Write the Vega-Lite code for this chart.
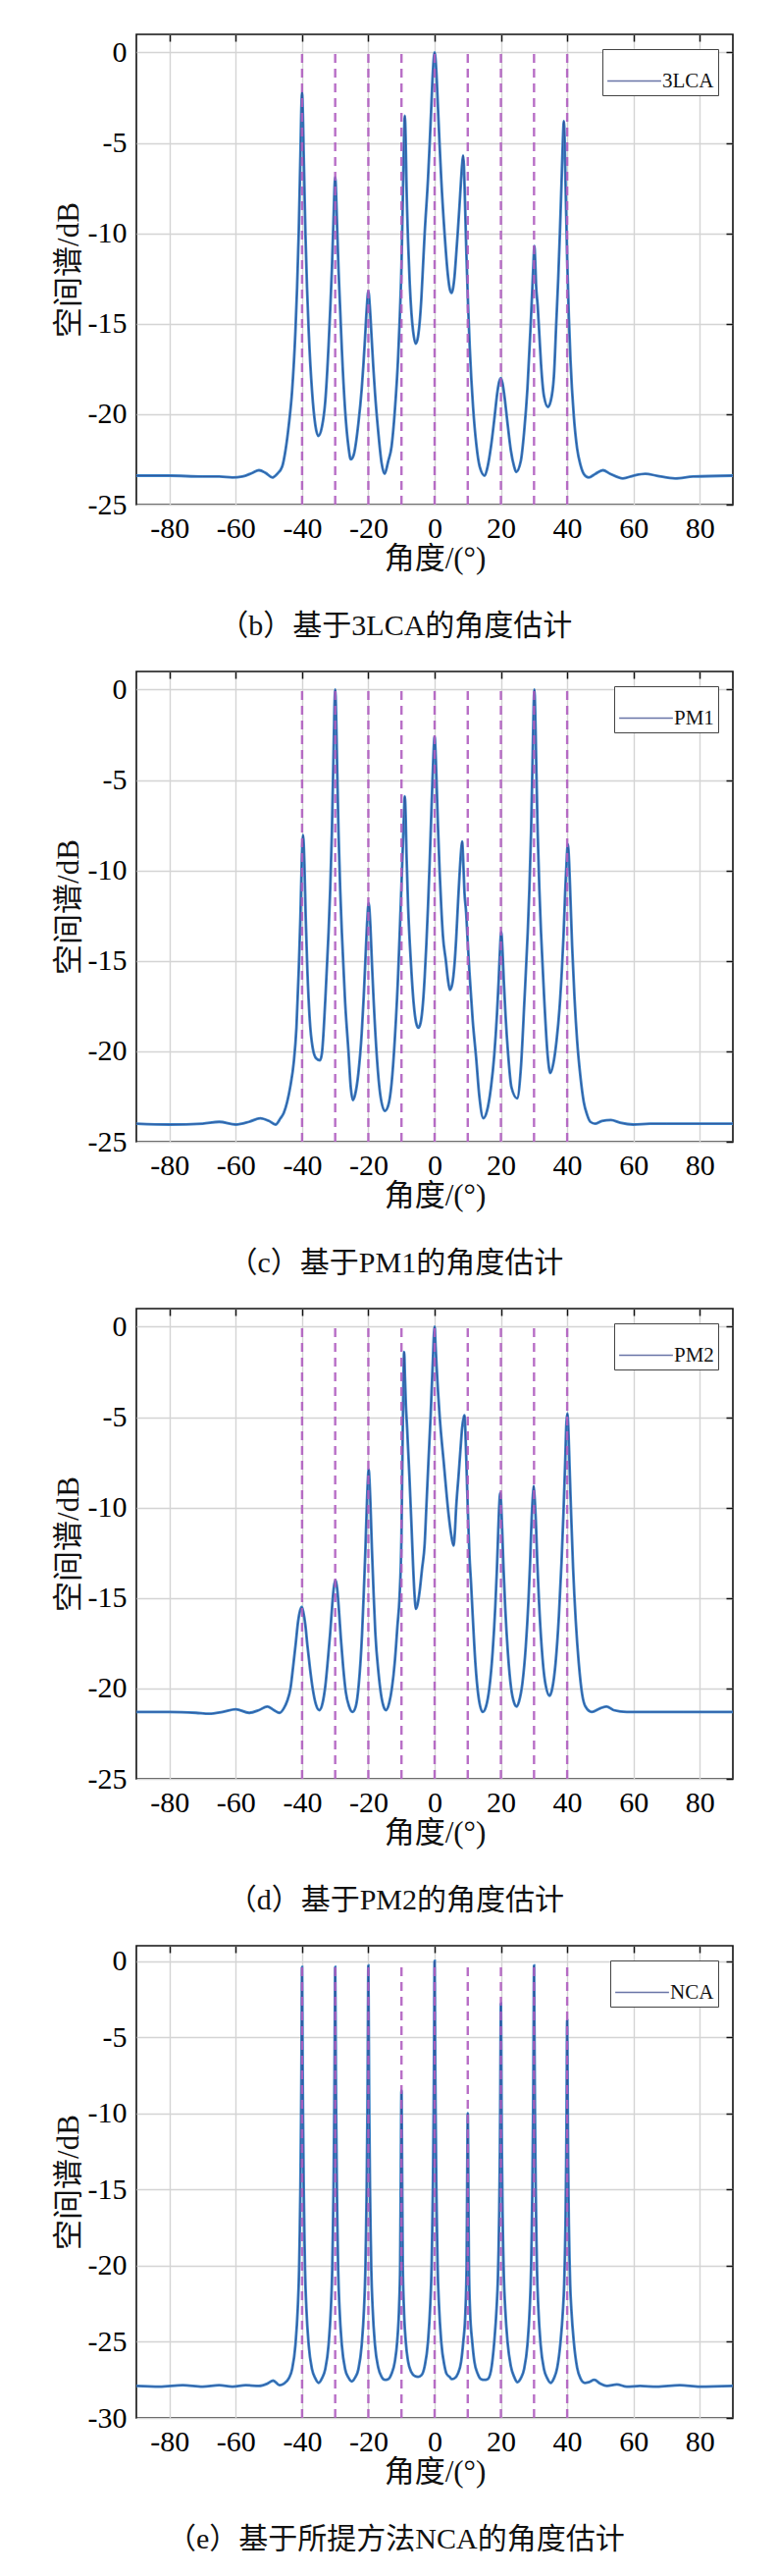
{
  "$schema": "https://vega.github.io/schema/vega-lite/v6.json",
  "padding": {"left": 53, "top": 33, "right": 5, "bottom": 5},
  "spacing": 28,
  "resolve": {"scale": {"color": "independent"}, "legend": {"color": "independent"}},
  "config": {
    "font": "Liberation Serif",
    "view": {"stroke": "#111", "strokeWidth": 1.6},
    "axis": {
      "labelFont": "Liberation Serif", "labelFontSize": 30, "labelColor": "#000",
      "titleFont": "Liberation Serif, Noto Sans CJK SC", "titleFontSize": 31, "titleFontWeight": "normal", "titleColor": "#111",
      "domain": false, "tickColor": "#111", "tickWidth": 1.5,
      "gridColor": "#d4d4d4", "gridWidth": 1.4
    },
    "axisX": {"labelPadding": 9, "titlePadding": 1},
    "axisY": {"labelPadding": 10, "titlePadding": 3},
    "legend": {
      "orient": "top-right", "offset": 15, "padding": 4, "strokeColor": "#444", "fillColor": "#ffffff",
      "labelFont": "Liberation Serif", "labelFontSize": 21, "labelColor": "#111", "labelOffset": 0,
      "symbolType": "stroke", "symbolSize": 3000, "symbolStrokeWidth": 1.6
    },
    "title": {"font": "Liberation Serif, Noto Sans CJK SC", "fontSize": 30, "fontWeight": "normal", "color": "#111", "orient": "bottom", "frame": "bounds", "anchor": "middle", "offset": 39}
  },
  "datasets": {
    "rA": [
      {"a": -40, "y1": -25, "y2": 0}, {"a": -30, "y1": -25, "y2": 0}, {"a": -20, "y1": -25, "y2": 0},
      {"a": -10, "y1": -25, "y2": 0}, {"a": 0, "y1": -25, "y2": 0}, {"a": 10, "y1": -25, "y2": 0},
      {"a": 20, "y1": -25, "y2": 0}, {"a": 30, "y1": -25, "y2": 0}, {"a": 40, "y1": -25, "y2": 0}
    ],
    "rB": [
      {"a": -40, "y1": -30, "y2": -0.35}, {"a": -30, "y1": -30, "y2": -0.35}, {"a": -20, "y1": -30, "y2": -0.35},
      {"a": -10, "y1": -30, "y2": -0.35}, {"a": 0, "y1": -30, "y2": -0.35}, {"a": 10, "y1": -30, "y2": -0.35},
      {"a": 20, "y1": -30, "y2": -0.35}, {"a": 30, "y1": -30, "y2": -0.35}, {"a": 40, "y1": -30, "y2": -0.35}
    ],
    "p1": [
      {"x": -90, "y": -23.4}, {"x": -80, "y": -23.4}, {"x": -70, "y": -23.45}, {"x": -65, "y": -23.45}, {"x": -61, "y": -23.5},
      {"x": -58, "y": -23.45}, {"x": -55, "y": -23.25}, {"x": -53, "y": -23.1}, {"x": -51, "y": -23.25}, {"x": -49, "y": -23.5},
      {"x": -47.5, "y": -23.3}, {"x": -46, "y": -22.9}, {"x": -45, "y": -22.0}, {"x": -44, "y": -20.6}, {"x": -43, "y": -18.7},
      {"x": -42, "y": -15.4}, {"x": -41.5, "y": -13.0}, {"x": -41, "y": -9.9}, {"x": -40.5, "y": -5.7}, {"x": -40.25, "y": -3.4},
      {"x": -40, "y": -2.2}, {"x": -39.75, "y": -3.4}, {"x": -39.5, "y": -5.7}, {"x": -39, "y": -9.9}, {"x": -38.5, "y": -13.0},
      {"x": -38, "y": -15.4}, {"x": -37, "y": -18.7}, {"x": -36, "y": -20.6}, {"x": -35.1, "y": -21.2}, {"x": -34, "y": -20.7},
      {"x": -33, "y": -19.3}, {"x": -32, "y": -16.2}, {"x": -31.5, "y": -14.2}, {"x": -31, "y": -12.0}, {"x": -30.5, "y": -9.2},
      {"x": -30.25, "y": -7.7}, {"x": -30, "y": -6.9}, {"x": -29.75, "y": -7.7}, {"x": -29.5, "y": -9.2}, {"x": -29, "y": -12.0},
      {"x": -28.5, "y": -14.2}, {"x": -28, "y": -16.4}, {"x": -27, "y": -19.8}, {"x": -26, "y": -21.8}, {"x": -25.3, "y": -22.5},
      {"x": -24.5, "y": -22.3}, {"x": -23, "y": -20.5}, {"x": -22, "y": -18.6}, {"x": -21.5, "y": -17.3}, {"x": -21, "y": -15.8},
      {"x": -20.5, "y": -14.2}, {"x": -20, "y": -13.2}, {"x": -19.5, "y": -14.2}, {"x": -19, "y": -15.8}, {"x": -18.5, "y": -17.4},
      {"x": -18, "y": -18.8}, {"x": -17, "y": -21.0}, {"x": -16, "y": -22.7}, {"x": -15.1, "y": -23.3}, {"x": -14, "y": -22.6},
      {"x": -13, "y": -21.8}, {"x": -12, "y": -19.8}, {"x": -11, "y": -16.8}, {"x": -10.5, "y": -14.6}, {"x": -10, "y": -11.8},
      {"x": -9.5, "y": -7.2}, {"x": -9.25, "y": -4.9}, {"x": -9, "y": -3.5}, {"x": -8.75, "y": -4.7}, {"x": -8.5, "y": -7.2},
      {"x": -8, "y": -10.5}, {"x": -7.5, "y": -12.8}, {"x": -7, "y": -14.4}, {"x": -6.5, "y": -15.4}, {"x": -5.7, "y": -16.1},
      {"x": -5, "y": -15.7}, {"x": -4.5, "y": -14.9}, {"x": -4, "y": -13.6}, {"x": -3.5, "y": -11.8}, {"x": -3, "y": -10.0},
      {"x": -2, "y": -7.0}, {"x": -1.5, "y": -5.1}, {"x": -1, "y": -3.0}, {"x": -0.5, "y": -1.0}, {"x": 0, "y": 0},
      {"x": 0.5, "y": -1.0}, {"x": 1, "y": -3.0}, {"x": 1.5, "y": -5.1}, {"x": 2, "y": -7.0}, {"x": 3, "y": -10.0},
      {"x": 4, "y": -12.3}, {"x": 4.6, "y": -13.1}, {"x": 5.1, "y": -13.3}, {"x": 5.6, "y": -13.0}, {"x": 6, "y": -12.4},
      {"x": 6.5, "y": -11.2}, {"x": 7, "y": -9.9}, {"x": 7.5, "y": -8.5}, {"x": 8, "y": -7.0}, {"x": 8.3, "y": -6.2},
      {"x": 8.6, "y": -5.7}, {"x": 8.85, "y": -6.3}, {"x": 9.1, "y": -7.8}, {"x": 9.6, "y": -11.2}, {"x": 10.1, "y": -14.0},
      {"x": 10.6, "y": -16.3}, {"x": 11.6, "y": -19.6}, {"x": 12.6, "y": -21.7}, {"x": 13.6, "y": -22.9}, {"x": 15.1, "y": -23.4},
      {"x": 16, "y": -22.9}, {"x": 17, "y": -21.8}, {"x": 18, "y": -20.3}, {"x": 19, "y": -18.7}, {"x": 19.5, "y": -18.2},
      {"x": 20, "y": -18.0}, {"x": 20.5, "y": -18.3}, {"x": 21, "y": -18.9}, {"x": 22, "y": -20.5}, {"x": 23, "y": -22.0},
      {"x": 24, "y": -22.9}, {"x": 24.6, "y": -23.2}, {"x": 26, "y": -22.6}, {"x": 27, "y": -21.0}, {"x": 28, "y": -18.6},
      {"x": 29, "y": -15.0}, {"x": 29.5, "y": -13.0}, {"x": 29.85, "y": -11.5}, {"x": 30.1, "y": -10.7}, {"x": 30.35, "y": -11.5},
      {"x": 30.6, "y": -12.8}, {"x": 31.1, "y": -14.0}, {"x": 31.6, "y": -15.6}, {"x": 32.1, "y": -17.2}, {"x": 33, "y": -19.0},
      {"x": 34.2, "y": -19.6}, {"x": 35, "y": -19.3}, {"x": 36, "y": -17.9}, {"x": 36.7, "y": -15.0}, {"x": 37.3, "y": -12.5},
      {"x": 37.8, "y": -10.0}, {"x": 38.3, "y": -7.2}, {"x": 38.7, "y": -4.9}, {"x": 39, "y": -3.8}, {"x": 39.25, "y": -4.9},
      {"x": 39.5, "y": -7.2}, {"x": 40, "y": -11.4}, {"x": 40.5, "y": -14.6}, {"x": 41, "y": -17.0}, {"x": 42, "y": -20.1},
      {"x": 43, "y": -21.9}, {"x": 44, "y": -22.8}, {"x": 45, "y": -23.3}, {"x": 46.5, "y": -23.5}, {"x": 48.5, "y": -23.3},
      {"x": 50.8, "y": -23.1}, {"x": 53, "y": -23.3}, {"x": 56.8, "y": -23.55}, {"x": 60, "y": -23.4}, {"x": 63.6, "y": -23.3},
      {"x": 67, "y": -23.4}, {"x": 72.6, "y": -23.55}, {"x": 78, "y": -23.45}, {"x": 90, "y": -23.4}
    ],
    "p2": [
      {"x": -90, "y": -24.0}, {"x": -80, "y": -24.05}, {"x": -70, "y": -24.0}, {"x": -65, "y": -23.9}, {"x": -60, "y": -24.05},
      {"x": -56, "y": -23.9}, {"x": -52.6, "y": -23.7}, {"x": -50, "y": -23.85}, {"x": -48, "y": -24.05}, {"x": -46.5, "y": -23.7},
      {"x": -45.5, "y": -23.4}, {"x": -44.5, "y": -22.8}, {"x": -43.5, "y": -21.9}, {"x": -42.5, "y": -20.6}, {"x": -41.7, "y": -18.7},
      {"x": -41, "y": -15.5}, {"x": -40.5, "y": -12.6}, {"x": -40.1, "y": -9.6}, {"x": -39.7, "y": -8.05}, {"x": -39.3, "y": -9.6},
      {"x": -38.9, "y": -12.6}, {"x": -38.4, "y": -15.5}, {"x": -37.7, "y": -18.2}, {"x": -36.8, "y": -19.8}, {"x": -35.7, "y": -20.4},
      {"x": -34.6, "y": -20.5}, {"x": -34, "y": -20.1}, {"x": -33, "y": -17.2}, {"x": -32, "y": -13.4}, {"x": -31.5, "y": -11.0},
      {"x": -31, "y": -7.9}, {"x": -30.5, "y": -3.5}, {"x": -30.25, "y": -1.2}, {"x": -30, "y": 0}, {"x": -29.75, "y": -1.2},
      {"x": -29.5, "y": -3.5}, {"x": -29, "y": -7.9}, {"x": -28.5, "y": -11.0}, {"x": -28, "y": -13.4}, {"x": -27, "y": -17.3},
      {"x": -26, "y": -20.0}, {"x": -25.3, "y": -22.0}, {"x": -24.7, "y": -22.7}, {"x": -24, "y": -22.4}, {"x": -23, "y": -21.2},
      {"x": -22, "y": -19.0}, {"x": -21.4, "y": -17.0}, {"x": -20.9, "y": -15.0}, {"x": -20.4, "y": -13.0}, {"x": -19.9, "y": -11.8},
      {"x": -19.4, "y": -13.0}, {"x": -18.9, "y": -15.2}, {"x": -18.4, "y": -17.2}, {"x": -17.4, "y": -20.4}, {"x": -16.4, "y": -22.4},
      {"x": -15, "y": -23.3}, {"x": -14, "y": -23.0}, {"x": -13, "y": -21.8}, {"x": -12, "y": -19.3}, {"x": -11, "y": -15.7},
      {"x": -10.5, "y": -13.3}, {"x": -10, "y": -10.8}, {"x": -9.5, "y": -8.2}, {"x": -9.25, "y": -6.9}, {"x": -9, "y": -5.9},
      {"x": -8.75, "y": -6.9}, {"x": -8.5, "y": -9.0}, {"x": -8, "y": -12.0}, {"x": -7.5, "y": -14.0}, {"x": -7, "y": -15.6},
      {"x": -6.3, "y": -17.4}, {"x": -5.6, "y": -18.4}, {"x": -4.9, "y": -18.7}, {"x": -4.2, "y": -18.4}, {"x": -3.5, "y": -17.3},
      {"x": -3, "y": -15.9}, {"x": -2.5, "y": -14.1}, {"x": -2, "y": -12.0}, {"x": -1.5, "y": -9.6}, {"x": -1, "y": -6.9},
      {"x": -0.5, "y": -4.3}, {"x": -0.25, "y": -3.2}, {"x": 0, "y": -2.6}, {"x": 0.25, "y": -3.3}, {"x": 0.5, "y": -4.6},
      {"x": 1, "y": -7.5}, {"x": 1.5, "y": -10.0}, {"x": 2, "y": -12.0}, {"x": 2.5, "y": -13.6}, {"x": 3.4, "y": -15.0},
      {"x": 4, "y": -16.0}, {"x": 4.6, "y": -16.6}, {"x": 5.3, "y": -16.3}, {"x": 6, "y": -15.2}, {"x": 6.5, "y": -13.8},
      {"x": 7, "y": -12.0}, {"x": 7.5, "y": -10.3}, {"x": 8, "y": -8.9}, {"x": 8.3, "y": -8.4}, {"x": 8.6, "y": -9.3},
      {"x": 9, "y": -11.2}, {"x": 9.5, "y": -12.3}, {"x": 10, "y": -14.0}, {"x": 10.5, "y": -15.6}, {"x": 11.5, "y": -18.3},
      {"x": 12.5, "y": -20.3}, {"x": 13.5, "y": -22.5}, {"x": 14.7, "y": -23.7}, {"x": 15.8, "y": -23.3}, {"x": 17, "y": -22.0},
      {"x": 18, "y": -20.2}, {"x": 18.8, "y": -18.0}, {"x": 19.3, "y": -16.2}, {"x": 19.7, "y": -14.5}, {"x": 20.1, "y": -13.4},
      {"x": 20.5, "y": -14.5}, {"x": 20.9, "y": -16.2}, {"x": 21.4, "y": -18.0}, {"x": 22.2, "y": -20.2}, {"x": 23.2, "y": -22.0},
      {"x": 24.9, "y": -22.6}, {"x": 26, "y": -21.0}, {"x": 27.1, "y": -17.2}, {"x": 28.1, "y": -13.4}, {"x": 28.6, "y": -11.0},
      {"x": 29.1, "y": -7.9}, {"x": 29.6, "y": -3.5}, {"x": 29.85, "y": -1.2}, {"x": 30.1, "y": 0}, {"x": 30.35, "y": -1.2},
      {"x": 30.6, "y": -3.5}, {"x": 31.1, "y": -7.9}, {"x": 31.6, "y": -11.0}, {"x": 32.1, "y": -13.4}, {"x": 33.1, "y": -17.2},
      {"x": 34.1, "y": -20.2}, {"x": 34.9, "y": -21.2}, {"x": 35.8, "y": -20.7}, {"x": 36.8, "y": -19.4}, {"x": 37.7, "y": -17.6},
      {"x": 38.4, "y": -15.5}, {"x": 38.9, "y": -13.6}, {"x": 39.4, "y": -11.2}, {"x": 39.8, "y": -9.6}, {"x": 40.2, "y": -8.55},
      {"x": 40.6, "y": -9.6}, {"x": 41, "y": -11.6}, {"x": 41.5, "y": -14.2}, {"x": 42.2, "y": -17.0}, {"x": 43, "y": -19.4},
      {"x": 44, "y": -21.4}, {"x": 45, "y": -22.8}, {"x": 46, "y": -23.5}, {"x": 47, "y": -23.9}, {"x": 48.4, "y": -24.0},
      {"x": 50.5, "y": -23.85}, {"x": 53.2, "y": -23.8}, {"x": 56, "y": -23.95}, {"x": 60, "y": -24.05}, {"x": 65, "y": -24.0},
      {"x": 70, "y": -24.0}, {"x": 80, "y": -24.0}, {"x": 90, "y": -24.0}
    ],
    "p3": [
      {"x": -90, "y": -21.3}, {"x": -80, "y": -21.3}, {"x": -72, "y": -21.35}, {"x": -68, "y": -21.4}, {"x": -64, "y": -21.3},
      {"x": -60, "y": -21.15}, {"x": -56, "y": -21.35}, {"x": -53, "y": -21.2}, {"x": -50.5, "y": -21.0}, {"x": -48.5, "y": -21.2},
      {"x": -46.8, "y": -21.35}, {"x": -45.5, "y": -21.1}, {"x": -44.5, "y": -20.7}, {"x": -43.5, "y": -20.0}, {"x": -42.7, "y": -18.8},
      {"x": -41.9, "y": -17.5}, {"x": -41.2, "y": -16.3}, {"x": -40.6, "y": -15.7}, {"x": -40.1, "y": -15.5}, {"x": -39.6, "y": -15.8},
      {"x": -39, "y": -16.5}, {"x": -38.4, "y": -17.6}, {"x": -37.6, "y": -18.9}, {"x": -36.8, "y": -20.0}, {"x": -35.8, "y": -20.9},
      {"x": -34.8, "y": -21.2}, {"x": -33.8, "y": -20.8}, {"x": -33, "y": -19.9}, {"x": -32.2, "y": -18.4}, {"x": -31.5, "y": -16.9},
      {"x": -30.9, "y": -15.4}, {"x": -30.4, "y": -14.4}, {"x": -29.9, "y": -14.0}, {"x": -29.4, "y": -14.5}, {"x": -28.9, "y": -15.6},
      {"x": -28.3, "y": -17.2}, {"x": -27.6, "y": -18.8}, {"x": -26.8, "y": -20.2}, {"x": -25.8, "y": -21.0}, {"x": -24.8, "y": -21.3},
      {"x": -23.8, "y": -21.0}, {"x": -22.9, "y": -19.8}, {"x": -21.9, "y": -17.0}, {"x": -21.4, "y": -14.8}, {"x": -20.9, "y": -12.4},
      {"x": -20.4, "y": -9.6}, {"x": -20.15, "y": -8.5}, {"x": -19.9, "y": -7.9}, {"x": -19.65, "y": -8.5}, {"x": -19.4, "y": -9.6},
      {"x": -18.9, "y": -12.4}, {"x": -18.4, "y": -14.8}, {"x": -17.9, "y": -16.9}, {"x": -16.9, "y": -19.2}, {"x": -16.2, "y": -20.3},
      {"x": -15.4, "y": -21.0}, {"x": -14.7, "y": -21.2}, {"x": -13.7, "y": -20.8}, {"x": -12.9, "y": -20.0}, {"x": -12, "y": -18.5},
      {"x": -11.2, "y": -16.5}, {"x": -10.6, "y": -15.0}, {"x": -10, "y": -11.5}, {"x": -9.7, "y": -7.0}, {"x": -9.45, "y": -3.5},
      {"x": -9.2, "y": -1.4}, {"x": -8.95, "y": -2.8}, {"x": -8.7, "y": -4.2}, {"x": -8.3, "y": -5.6}, {"x": -7.6, "y": -8.3},
      {"x": -7, "y": -10.9}, {"x": -6.5, "y": -13.2}, {"x": -6, "y": -15.0}, {"x": -5.7, "y": -15.6}, {"x": -5.2, "y": -15.4},
      {"x": -4.5, "y": -14.6}, {"x": -3.8, "y": -13.4}, {"x": -3, "y": -12.0}, {"x": -2.5, "y": -10.0}, {"x": -1.9, "y": -7.6},
      {"x": -1.2, "y": -4.9}, {"x": -0.6, "y": -2.2}, {"x": 0, "y": 0}, {"x": 0.3, "y": -1.1}, {"x": 0.6, "y": -2.2},
      {"x": 1.5, "y": -4.9}, {"x": 2.8, "y": -7.6}, {"x": 4.2, "y": -10.35}, {"x": 5, "y": -11.5}, {"x": 5.7, "y": -12.1},
      {"x": 6.1, "y": -11.4}, {"x": 6.5, "y": -10.0}, {"x": 7.2, "y": -8.3}, {"x": 7.8, "y": -6.8}, {"x": 8.3, "y": -5.6},
      {"x": 8.7, "y": -5.1}, {"x": 9, "y": -4.9}, {"x": 9.25, "y": -5.6}, {"x": 9.5, "y": -7.0}, {"x": 10, "y": -10.0},
      {"x": 10.5, "y": -12.6}, {"x": 11, "y": -14.2}, {"x": 11.5, "y": -16.0}, {"x": 12.3, "y": -18.6}, {"x": 13.2, "y": -20.4},
      {"x": 14.5, "y": -21.3}, {"x": 15.5, "y": -21.0}, {"x": 16.5, "y": -20.0}, {"x": 17.5, "y": -18.0}, {"x": 18.3, "y": -15.5},
      {"x": 18.8, "y": -13.4}, {"x": 19.2, "y": -11.3}, {"x": 19.5, "y": -9.9}, {"x": 19.8, "y": -9.2}, {"x": 20.1, "y": -9.9},
      {"x": 20.4, "y": -11.3}, {"x": 20.8, "y": -13.4}, {"x": 21.3, "y": -15.5}, {"x": 22.1, "y": -18.0}, {"x": 23.1, "y": -20.0},
      {"x": 24, "y": -20.8}, {"x": 24.7, "y": -21.0}, {"x": 25.5, "y": -20.7}, {"x": 26.5, "y": -19.7}, {"x": 27.5, "y": -17.7},
      {"x": 28.3, "y": -15.2}, {"x": 28.8, "y": -13.1}, {"x": 29.2, "y": -11.0}, {"x": 29.6, "y": -9.5}, {"x": 29.9, "y": -8.8},
      {"x": 30.2, "y": -9.5}, {"x": 30.6, "y": -11.0}, {"x": 31, "y": -13.1}, {"x": 31.5, "y": -15.2}, {"x": 32.3, "y": -17.7},
      {"x": 33.3, "y": -19.6}, {"x": 34.7, "y": -20.4}, {"x": 35.5, "y": -20.0}, {"x": 36.5, "y": -18.6}, {"x": 37.5, "y": -16.0},
      {"x": 38.3, "y": -13.0}, {"x": 38.9, "y": -10.2}, {"x": 39.4, "y": -7.5}, {"x": 39.75, "y": -5.4}, {"x": 40.05, "y": -4.8},
      {"x": 40.35, "y": -5.6}, {"x": 40.7, "y": -7.6}, {"x": 41.2, "y": -10.4}, {"x": 41.8, "y": -13.4}, {"x": 42.6, "y": -16.3},
      {"x": 43.5, "y": -18.6}, {"x": 44.5, "y": -20.3}, {"x": 45.5, "y": -21.0}, {"x": 47.4, "y": -21.3}, {"x": 50, "y": -21.1},
      {"x": 51.9, "y": -21.0}, {"x": 54, "y": -21.2}, {"x": 58, "y": -21.3}, {"x": 65, "y": -21.3}, {"x": 75, "y": -21.3},
      {"x": 90, "y": -21.3}
    ],
    "p4": [
      {"x": -90, "y": -27.9}, {"x": -83, "y": -27.95}, {"x": -76, "y": -27.85}, {"x": -70, "y": -27.95}, {"x": -65, "y": -27.85},
      {"x": -61, "y": -27.95}, {"x": -57, "y": -27.85}, {"x": -53, "y": -27.9}, {"x": -50.5, "y": -27.75}, {"x": -48.7, "y": -27.55},
      {"x": -46.8, "y": -27.85}, {"x": -45.5, "y": -27.75}, {"x": -44, "y": -27.4}, {"x": -43, "y": -26.8}, {"x": -42, "y": -25.2},
      {"x": -41.3, "y": -22.8}, {"x": -40.9, "y": -20.3}, {"x": -40.7, "y": -17.9}, {"x": -40.5, "y": -14.9}, {"x": -40.3, "y": -10.4},
      {"x": -40.2, "y": -7.4}, {"x": -40.1, "y": -3.4}, {"x": -40, "y": -0.4}, {"x": -39.9, "y": -3.4}, {"x": -39.8, "y": -7.4},
      {"x": -39.7, "y": -10.4}, {"x": -39.5, "y": -14.9}, {"x": -39.3, "y": -17.9}, {"x": -39.1, "y": -20.3}, {"x": -38.7, "y": -22.8},
      {"x": -38, "y": -25.2}, {"x": -37, "y": -26.8}, {"x": -36, "y": -27.4}, {"x": -35, "y": -27.7}, {"x": -34, "y": -27.4},
      {"x": -33, "y": -26.8}, {"x": -32, "y": -25.2}, {"x": -31.3, "y": -22.8}, {"x": -30.9, "y": -20.3}, {"x": -30.7, "y": -17.9},
      {"x": -30.5, "y": -14.9}, {"x": -30.3, "y": -10.4}, {"x": -30.2, "y": -7.4}, {"x": -30.1, "y": -3.4}, {"x": -30, "y": -0.4},
      {"x": -29.9, "y": -3.4}, {"x": -29.8, "y": -7.4}, {"x": -29.7, "y": -10.4}, {"x": -29.5, "y": -14.9}, {"x": -29.3, "y": -17.9},
      {"x": -29.1, "y": -20.3}, {"x": -28.7, "y": -22.8}, {"x": -28, "y": -25.2}, {"x": -27, "y": -26.8}, {"x": -26, "y": -27.35},
      {"x": -25, "y": -27.6}, {"x": -24, "y": -27.35}, {"x": -23, "y": -26.8}, {"x": -22, "y": -25.2}, {"x": -21.3, "y": -22.8},
      {"x": -20.9, "y": -20.3}, {"x": -20.7, "y": -17.9}, {"x": -20.5, "y": -14.9}, {"x": -20.3, "y": -10.4}, {"x": -20.2, "y": -7.4},
      {"x": -20.1, "y": -3.3}, {"x": -20, "y": -0.3}, {"x": -19.9, "y": -3.3}, {"x": -19.8, "y": -7.4}, {"x": -19.7, "y": -10.4},
      {"x": -19.5, "y": -14.9}, {"x": -19.3, "y": -17.9}, {"x": -19.1, "y": -20.3}, {"x": -18.7, "y": -22.8}, {"x": -18, "y": -25.2},
      {"x": -17, "y": -26.7}, {"x": -16, "y": -27.3}, {"x": -15, "y": -27.5}, {"x": -14, "y": -27.45}, {"x": -13, "y": -27.1},
      {"x": -12, "y": -26.3}, {"x": -11.3, "y": -25.0}, {"x": -10.7, "y": -22.6}, {"x": -10.4, "y": -20.0}, {"x": -10.2, "y": -14.0},
      {"x": -10.1, "y": -10.5}, {"x": -10, "y": -8.5}, {"x": -9.9, "y": -10.5}, {"x": -9.8, "y": -14.0}, {"x": -9.6, "y": -20.0},
      {"x": -9.3, "y": -22.6}, {"x": -8.7, "y": -25.0}, {"x": -8, "y": -26.3}, {"x": -7, "y": -27.0}, {"x": -6, "y": -27.25},
      {"x": -5, "y": -27.3}, {"x": -4, "y": -27.2}, {"x": -3, "y": -26.6}, {"x": -2, "y": -25.0}, {"x": -1.3, "y": -22.5},
      {"x": -0.9, "y": -20.0}, {"x": -0.7, "y": -17.5}, {"x": -0.5, "y": -14.5}, {"x": -0.3, "y": -10.0}, {"x": -0.2, "y": -7.0},
      {"x": -0.1, "y": -3.0}, {"x": 0, "y": 0}, {"x": 0.1, "y": -3.0}, {"x": 0.2, "y": -7.0}, {"x": 0.3, "y": -10.0},
      {"x": 0.5, "y": -14.5}, {"x": 0.7, "y": -17.5}, {"x": 0.9, "y": -20.0}, {"x": 1.3, "y": -22.5}, {"x": 2, "y": -25.0},
      {"x": 3, "y": -26.6}, {"x": 3.6, "y": -27.1}, {"x": 4.5, "y": -27.3}, {"x": 5.2, "y": -27.45}, {"x": 6, "y": -27.4},
      {"x": 7, "y": -27.1}, {"x": 8, "y": -26.3}, {"x": 8.65, "y": -25.0}, {"x": 9.3, "y": -23.0}, {"x": 9.65, "y": -20.0},
      {"x": 9.8, "y": -15.5}, {"x": 9.9, "y": -12.0}, {"x": 10, "y": -10.0}, {"x": 10.1, "y": -12.0}, {"x": 10.2, "y": -15.5},
      {"x": 10.35, "y": -20.0}, {"x": 10.7, "y": -23.0}, {"x": 11.35, "y": -25.0}, {"x": 12, "y": -26.3}, {"x": 13, "y": -27.1},
      {"x": 14, "y": -27.45}, {"x": 15, "y": -27.5}, {"x": 16, "y": -27.45}, {"x": 17, "y": -26.9}, {"x": 18, "y": -25.0},
      {"x": 18.7, "y": -22.8}, {"x": 19.1, "y": -20.8}, {"x": 19.3, "y": -19.0}, {"x": 19.5, "y": -16.5}, {"x": 19.7, "y": -12.5},
      {"x": 19.8, "y": -9.5}, {"x": 19.9, "y": -5.5}, {"x": 20, "y": -2.8}, {"x": 20.1, "y": -5.5}, {"x": 20.2, "y": -9.5},
      {"x": 20.3, "y": -12.5}, {"x": 20.5, "y": -16.5}, {"x": 20.7, "y": -19.0}, {"x": 20.9, "y": -20.8}, {"x": 21.3, "y": -22.8},
      {"x": 22, "y": -25.0}, {"x": 23, "y": -26.6}, {"x": 24, "y": -27.3}, {"x": 25, "y": -27.65}, {"x": 26, "y": -27.4},
      {"x": 27, "y": -26.8}, {"x": 28, "y": -25.2}, {"x": 28.7, "y": -22.8}, {"x": 29.1, "y": -20.3}, {"x": 29.3, "y": -17.9},
      {"x": 29.5, "y": -14.9}, {"x": 29.7, "y": -10.4}, {"x": 29.8, "y": -7.4}, {"x": 29.9, "y": -3.4}, {"x": 30, "y": -0.3},
      {"x": 30.1, "y": -3.4}, {"x": 30.2, "y": -7.4}, {"x": 30.3, "y": -10.4}, {"x": 30.5, "y": -14.9}, {"x": 30.7, "y": -17.9},
      {"x": 30.9, "y": -20.3}, {"x": 31.3, "y": -22.8}, {"x": 32, "y": -25.2}, {"x": 33, "y": -26.8}, {"x": 34, "y": -27.4},
      {"x": 35, "y": -27.7}, {"x": 36, "y": -27.4}, {"x": 37, "y": -26.7}, {"x": 38, "y": -25.0}, {"x": 38.7, "y": -23.0},
      {"x": 39.1, "y": -21.2}, {"x": 39.3, "y": -19.5}, {"x": 39.5, "y": -17.2}, {"x": 39.7, "y": -13.3}, {"x": 39.8, "y": -10.5},
      {"x": 39.9, "y": -6.6}, {"x": 40, "y": -3.9}, {"x": 40.1, "y": -6.6}, {"x": 40.2, "y": -10.5}, {"x": 40.3, "y": -13.3},
      {"x": 40.5, "y": -17.2}, {"x": 40.7, "y": -19.5}, {"x": 40.9, "y": -21.2}, {"x": 41.3, "y": -23.0}, {"x": 42, "y": -25.0},
      {"x": 43, "y": -26.7}, {"x": 44, "y": -27.4}, {"x": 45.3, "y": -27.7}, {"x": 46.5, "y": -27.65}, {"x": 48.2, "y": -27.5},
      {"x": 50, "y": -27.75}, {"x": 52, "y": -27.9}, {"x": 55, "y": -27.8}, {"x": 58, "y": -27.95}, {"x": 62, "y": -27.9},
      {"x": 67, "y": -27.95}, {"x": 74, "y": -27.85}, {"x": 80, "y": -27.95}, {"x": 90, "y": -27.9}
    ]
  },
  "vconcat": [
    {
      "width": 608, "height": 479,
      "title": "（b）基于3LCA的角度估计",
      "resolve": {"axis": {"x": "independent", "y": "independent"}},
      "layer": [
        {
          "data": {"name": "p1"},
          "mark": {"type": "line", "interpolate": "monotone", "color": "#3d85c8", "strokeWidth": 2.8},
          "encoding": {
            "x": {"field": "x", "type": "quantitative", "scale": {"domain": [-90, 90], "nice": false, "zero": false},
                  "axis": {"title": "角度/(°)", "values": [-80, -60, -40, -20, 0, 20, 40, 60, 80], "grid": true, "ticks": false, "labelExpr": "datum.value + ''"}},
            "y": {"field": "y", "type": "quantitative", "scale": {"domain": [-25, 1], "nice": false, "zero": false},
                  "axis": {"title": "空间谱/dB", "values": [0, -5, -10, -15, -20, -25], "grid": true, "ticks": false, "labelExpr": "datum.value + ''"}}
          }
        },
        {
          "data": {"name": "p1"},
          "mark": {"type": "line", "interpolate": "monotone", "strokeWidth": 0.9, "opacity": 0.7},
          "encoding": {
            "x": {"field": "x", "type": "quantitative", "axis": {"orient": "top", "values": [-80, -60, -40, -20, 0, 20, 40, 60, 80], "labels": false, "grid": false, "tickSize": -7, "title": null}},
            "y": {"field": "y", "type": "quantitative", "axis": {"orient": "right", "values": [0, -5, -10, -15, -20, -25], "labels": false, "grid": false, "tickSize": -7, "title": null}},
            "color": {"datum": "3LCA", "type": "nominal", "scale": {"range": ["#2b3b82"]}, "legend": {"title": null}}
          }
        },
        {
          "data": {"name": "rA"},
          "mark": {"type": "rule", "color": "#b05ec0", "strokeWidth": 2.4, "strokeDash": [9, 6], "opacity": 0.9},
          "encoding": {
            "x": {"field": "a", "type": "quantitative", "axis": null},
            "y": {"field": "y1", "type": "quantitative", "axis": null},
            "y2": {"field": "y2"}
          }
        }
      ]
    },
    {
      "width": 608, "height": 479,
      "title": "（c）基于PM1的角度估计",
      "resolve": {"axis": {"x": "independent", "y": "independent"}},
      "layer": [
        {
          "data": {"name": "p2"},
          "mark": {"type": "line", "interpolate": "monotone", "color": "#3d85c8", "strokeWidth": 2.8},
          "encoding": {
            "x": {"field": "x", "type": "quantitative", "scale": {"domain": [-90, 90], "nice": false, "zero": false},
                  "axis": {"title": "角度/(°)", "values": [-80, -60, -40, -20, 0, 20, 40, 60, 80], "grid": true, "ticks": false, "labelExpr": "datum.value + ''"}},
            "y": {"field": "y", "type": "quantitative", "scale": {"domain": [-25, 1], "nice": false, "zero": false},
                  "axis": {"title": "空间谱/dB", "values": [0, -5, -10, -15, -20, -25], "grid": true, "ticks": false, "labelExpr": "datum.value + ''"}}
          }
        },
        {
          "data": {"name": "p2"},
          "mark": {"type": "line", "interpolate": "monotone", "strokeWidth": 0.9, "opacity": 0.7},
          "encoding": {
            "x": {"field": "x", "type": "quantitative", "axis": {"orient": "top", "values": [-80, -60, -40, -20, 0, 20, 40, 60, 80], "labels": false, "grid": false, "tickSize": -7, "title": null}},
            "y": {"field": "y", "type": "quantitative", "axis": {"orient": "right", "values": [0, -5, -10, -15, -20, -25], "labels": false, "grid": false, "tickSize": -7, "title": null}},
            "color": {"datum": "PM1", "type": "nominal", "scale": {"range": ["#2b3b82"]}, "legend": {"title": null}}
          }
        },
        {
          "data": {"name": "rA"},
          "mark": {"type": "rule", "color": "#b05ec0", "strokeWidth": 2.4, "strokeDash": [9, 6], "opacity": 0.9},
          "encoding": {
            "x": {"field": "a", "type": "quantitative", "axis": null},
            "y": {"field": "y1", "type": "quantitative", "axis": null},
            "y2": {"field": "y2"}
          }
        }
      ]
    },
    {
      "width": 608, "height": 479,
      "title": "（d）基于PM2的角度估计",
      "resolve": {"axis": {"x": "independent", "y": "independent"}},
      "layer": [
        {
          "data": {"name": "p3"},
          "mark": {"type": "line", "interpolate": "monotone", "color": "#3d85c8", "strokeWidth": 2.8},
          "encoding": {
            "x": {"field": "x", "type": "quantitative", "scale": {"domain": [-90, 90], "nice": false, "zero": false},
                  "axis": {"title": "角度/(°)", "values": [-80, -60, -40, -20, 0, 20, 40, 60, 80], "grid": true, "ticks": false, "labelExpr": "datum.value + ''"}},
            "y": {"field": "y", "type": "quantitative", "scale": {"domain": [-25, 1], "nice": false, "zero": false},
                  "axis": {"title": "空间谱/dB", "values": [0, -5, -10, -15, -20, -25], "grid": true, "ticks": false, "labelExpr": "datum.value + ''"}}
          }
        },
        {
          "data": {"name": "p3"},
          "mark": {"type": "line", "interpolate": "monotone", "strokeWidth": 0.9, "opacity": 0.7},
          "encoding": {
            "x": {"field": "x", "type": "quantitative", "axis": {"orient": "top", "values": [-80, -60, -40, -20, 0, 20, 40, 60, 80], "labels": false, "grid": false, "tickSize": -7, "title": null}},
            "y": {"field": "y", "type": "quantitative", "axis": {"orient": "right", "values": [0, -5, -10, -15, -20, -25], "labels": false, "grid": false, "tickSize": -7, "title": null}},
            "color": {"datum": "PM2", "type": "nominal", "scale": {"range": ["#2b3b82"]}, "legend": {"title": null}}
          }
        },
        {
          "data": {"name": "rA"},
          "mark": {"type": "rule", "color": "#b05ec0", "strokeWidth": 2.4, "strokeDash": [9, 6], "opacity": 0.9},
          "encoding": {
            "x": {"field": "a", "type": "quantitative", "axis": null},
            "y": {"field": "y1", "type": "quantitative", "axis": null},
            "y2": {"field": "y2"}
          }
        }
      ]
    },
    {
      "width": 608, "height": 481,
      "title": "（e）基于所提方法NCA的角度估计",
      "resolve": {"axis": {"x": "independent", "y": "independent"}},
      "layer": [
        {
          "data": {"name": "p4"},
          "mark": {"type": "line", "interpolate": "monotone", "color": "#3d85c8", "strokeWidth": 2.8},
          "encoding": {
            "x": {"field": "x", "type": "quantitative", "scale": {"domain": [-90, 90], "nice": false, "zero": false},
                  "axis": {"title": "角度/(°)", "values": [-80, -60, -40, -20, 0, 20, 40, 60, 80], "grid": true, "ticks": false, "labelExpr": "datum.value + ''"}},
            "y": {"field": "y", "type": "quantitative", "scale": {"domain": [-30, 1], "nice": false, "zero": false},
                  "axis": {"title": "空间谱/dB", "values": [0, -5, -10, -15, -20, -25, -30], "grid": true, "ticks": false, "labelExpr": "datum.value + ''"}}
          }
        },
        {
          "data": {"name": "p4"},
          "mark": {"type": "line", "interpolate": "monotone", "strokeWidth": 0.9, "opacity": 0.7},
          "encoding": {
            "x": {"field": "x", "type": "quantitative", "axis": {"orient": "top", "values": [-80, -60, -40, -20, 0, 20, 40, 60, 80], "labels": false, "grid": false, "tickSize": -7, "title": null}},
            "y": {"field": "y", "type": "quantitative", "axis": {"orient": "right", "values": [0, -5, -10, -15, -20, -25, -30], "labels": false, "grid": false, "tickSize": -7, "title": null}},
            "color": {"datum": "NCA", "type": "nominal", "scale": {"range": ["#2b3b82"]}, "legend": {"title": null}}
          }
        },
        {
          "data": {"name": "rB"},
          "mark": {"type": "rule", "color": "#b05ec0", "strokeWidth": 2.4, "strokeDash": [9, 6], "opacity": 0.9},
          "encoding": {
            "x": {"field": "a", "type": "quantitative", "axis": null},
            "y": {"field": "y1", "type": "quantitative", "axis": null},
            "y2": {"field": "y2"}
          }
        }
      ]
    }
  ]
}
